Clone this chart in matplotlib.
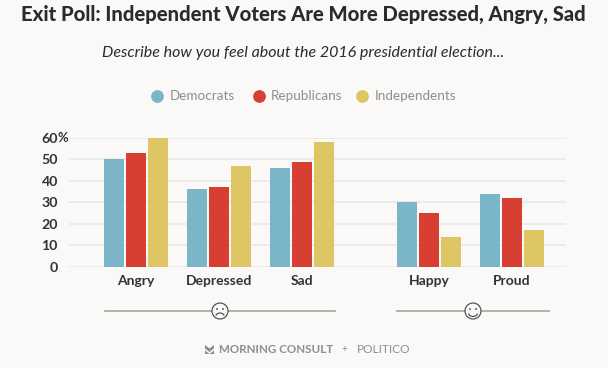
import numpy as np
import matplotlib
matplotlib.use("Agg")
import matplotlib.pyplot as plt
from matplotlib.lines import Line2D
from matplotlib.patches import Arc, Circle, Polygon

categories = ["Angry", "Depressed", "Sad", "Happy", "Proud"]
group_pos = [0, 1, 2, 3.53, 4.53]
democrats = [50, 36, 46, 30, 34]
republicans = [53, 37, 49, 25, 32]
independents = [60, 47, 58, 14, 17]
series_names = ["Democrats", "Republicans", "Independents"]
y_ticks = [0, 10, 20, 30, 40, 50, 60]
y_labels = ["0", "10", "20", "30", "40", "50", "60"]

W, H = 608, 368
BG = "#FAF9F7"
COLORS = ["#7BB6C8", "#D83F33", "#DDC663"]
DARK = "#2B2B2B"
GREY = "#8E8E8E"

plt.rcParams["font.family"] = ["Lato", "DejaVu Sans"]

fig = plt.figure(figsize=(W / 100, H / 100), dpi=100, facecolor=BG)

# axes placed in pixels: gridlines run 69-566, y=0 at 266.5, y=60 at 138
ax = fig.add_axes([69 / W, (H - 266.5) / H, (566 - 69) / W, (266.5 - 138) / H])
ax.set_facecolor(BG)
ax.set_xlim(-0.807, 5.18)
ax.set_ylim(0, 60)

x = np.array(group_pos)
step = 0.265
for i, vals in enumerate([democrats, republicans, independents]):
    ax.bar(x + (i - 1) * step, vals, width=0.24, color=COLORS[i], zorder=3, clip_on=False)

ax.set_yticks(y_ticks)
ax.set_yticklabels(y_labels, fontsize=10.2, fontweight="bold", color="#333333")
ax.set_xticks(x)
ax.set_xticklabels(categories, fontsize=10, fontweight="bold", color="#333333")
ax.tick_params(axis="both", length=0)
ax.tick_params(axis="x", pad=6)
ax.tick_params(axis="y", pad=8)
ax.grid(axis="y", color="#E9E8E6", lw=1.1, zorder=0)
ax.set_axisbelow(True)
for s in ax.spines.values():
    s.set_visible(False)

# overlay in image pixels (y down) for the header, faces and footer
ov = fig.add_axes([0, 0, 1, 1], facecolor="none")
ov.set_xlim(0, W)
ov.set_ylim(H, 0)
ov.axis("off")

ov.text(303.5, 14, "Exit Poll: Independent Voters Are More Depressed, Angry, Sad",
        ha="center", va="center", fontsize=14.6, fontweight="black", color=DARK)
ov.text(303, 53.5, "Describe how you feel about the 2016 presidential election...",
        ha="center", va="center", fontsize=11.5, style="italic", color=DARK)

# the % sign hangs past the right-aligned tick digits
ov.text(57.5, 137.5, "%", ha="left", va="center", fontsize=9.4, fontweight="bold", color="#333333")

for cx, tx, name, col in zip([157, 258.5, 362], [170, 271, 375], series_names, COLORS):
    ov.add_line(Line2D([cx], [96], marker="o", ms=9.2, color=col, mew=0))
    ov.text(tx, 96, name, ha="left", va="center", fontsize=9.7, color=GREY)


def face(cx, cy, happy):
    line = "#444444"
    ov.add_patch(Circle((cx, cy), 8, fc=BG, ec=line, lw=0.8, zorder=5))
    for dx in (-3, 3):
        ov.add_patch(Circle((cx + dx, cy - 2), 0.9, fc=line, ec="none", zorder=6))
    if happy:
        ov.add_patch(Arc((cx, cy + 1), 10, 9, theta1=20, theta2=160, ec=line, lw=0.8, zorder=6))
    else:
        ov.add_patch(Arc((cx, cy + 6), 9, 8, theta1=200, theta2=340, ec=line, lw=0.8, zorder=6))


for x0, x1, cx, happy in [(105, 335, 220, False), (397, 549, 473, True)]:
    ov.add_line(Line2D([x0, x1], [311, 311], color="#ABABA8", lw=1.3, zorder=4))
    face(cx, 311, happy)

# footer logo mark
ov.add_patch(Polygon([(205, 345), (209.5, 348.5), (214, 345), (214, 348.5), (209.5, 352), (205, 348.5)],
                     closed=True, fc=GREY, ec="none"))
ov.add_patch(Polygon([(205, 350.5), (209.5, 354), (214, 350.5), (214, 354), (205, 354)],
                     closed=True, fc=GREY, ec="none"))
ov.text(219, 349.5, "MORNING CONSULT", ha="left", va="center", fontsize=8.4,
        fontweight="bold", color=GREY)
ov.text(344.5, 349.5, "+", ha="center", va="center", fontsize=7.5, color=GREY)
ov.text(357, 349.5, "POLITICO", ha="left", va="center", fontsize=8.6, color=GREY)

fig.savefig("out.png", dpi=100, facecolor=BG)
